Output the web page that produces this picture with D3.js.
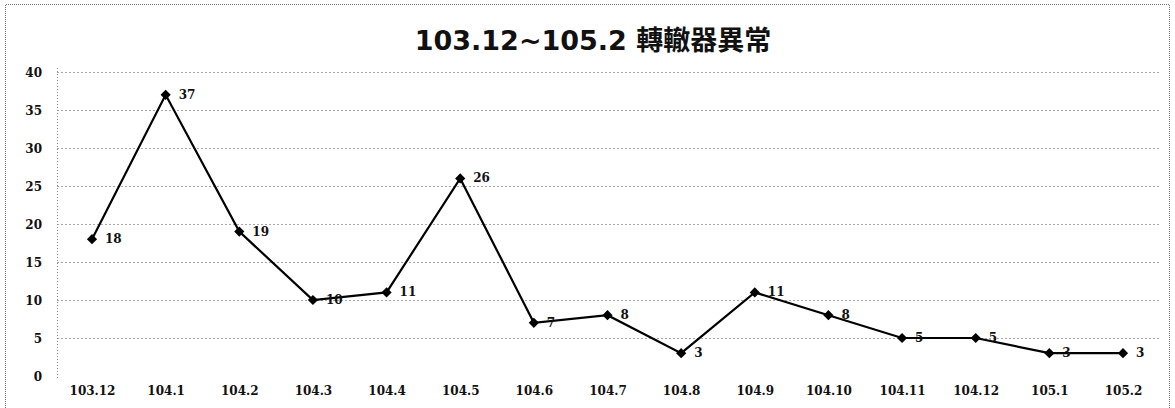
<!DOCTYPE html>
<html><head><meta charset="utf-8">
<script src="https://cdn.jsdelivr.net/npm/d3@7"></script>
<style>
html,body{margin:0;padding:0;background:#fff;}
svg{display:block;}
</style></head>
<body>
<svg id="c" width="1175" height="408"></svg>
<script>
const title = "103.12~105.2 轉轍器異常";
const categories = ["103.12","104.1","104.2","104.3","104.4","104.5","104.6","104.7","104.8","104.9","104.10","104.11","104.12","105.1","105.2"];
const values = [18,37,19,10,11,26,7,8,3,11,8,5,5,3,3];
const yTicks = [0,5,10,15,20,25,30,35,40];

const svg = d3.select("#c");
const W = 1175, H = 408;

// outer frame (dotted)
svg.append("path")
  .attr("d", `M5.5,${H} V4.5 H1169.5 V${H}`)
  .attr("fill","none").attr("stroke","#777").attr("stroke-width",1)
  .attr("stroke-dasharray","1,1");

const x = d3.scalePoint().domain(categories).range([92,1123]);
const y = d3.scaleLinear().domain([0,40]).range([376,72]);

// grid lines
const grid = svg.append("g");
grid.selectAll("line").data(yTicks.filter(d=>d>0)).join("line")
  .attr("x1",57).attr("x2",1160)
  .attr("y1",d=>Math.round(y(d))+0.5).attr("y2",d=>Math.round(y(d))+0.5)
  .attr("stroke","#a8a8a8").attr("stroke-width",1).attr("stroke-dasharray","2,2");

// y axis line (dotted)
svg.append("line").attr("x1",57.5).attr("x2",57.5).attr("y1",68).attr("y2",380)
  .attr("stroke","#888").attr("stroke-dasharray","1,2");

// y axis labels
const yAxis = d3.axisLeft(y).tickValues(yTicks).tickSize(0).tickPadding(0);
const ya = svg.append("g").attr("transform","translate(42,0)").call(yAxis);
ya.select(".domain").remove();
ya.selectAll("text").attr("font-family","'DejaVu Serif', serif").attr("font-weight","bold")
  .attr("font-size","12px").attr("fill","#111").attr("dy","0.35em");

// x axis labels
const xAxis = d3.axisBottom(x).tickSize(0).tickPadding(0);
const xa = svg.append("g").attr("transform","translate(0,386)").call(xAxis);
xa.select(".domain").remove();
xa.selectAll("text").attr("font-family","'DejaVu Serif', serif").attr("font-weight","bold")
  .attr("font-size","12px").attr("fill","#111").attr("dy","0.71em");

// title
svg.append("text").attr("x",593).attr("y",50).attr("text-anchor","middle")
  .attr("font-family","'DejaVu Sans','Noto Sans CJK TC',sans-serif").attr("font-weight","bold")
  .attr("font-size","27px").attr("fill","#111").text(title);

// line
const line = d3.line().x((d,i)=>x(categories[i])).y(d=>y(d));
svg.append("path").datum(values).attr("d",line)
  .attr("fill","none").attr("stroke","#000").attr("stroke-width",2.2);

// markers (square diamonds)
svg.append("g").selectAll("path").data(values).join("path")
  .attr("d", d3.symbol().type(d3.symbolSquare).size(52))
  .attr("transform",(d,i)=>`translate(${x(categories[i])},${y(d)}) rotate(45)`)
  .attr("fill","#000");

// data labels
svg.append("g").selectAll("text").data(values).join("text")
  .attr("x",(d,i)=>x(categories[i])+13).attr("y",d=>y(d)+4)
  .attr("font-family","'DejaVu Serif', serif").attr("font-weight","bold")
  .attr("font-size","12px").attr("fill","#111").text(d=>d);
</script>
</body></html>
